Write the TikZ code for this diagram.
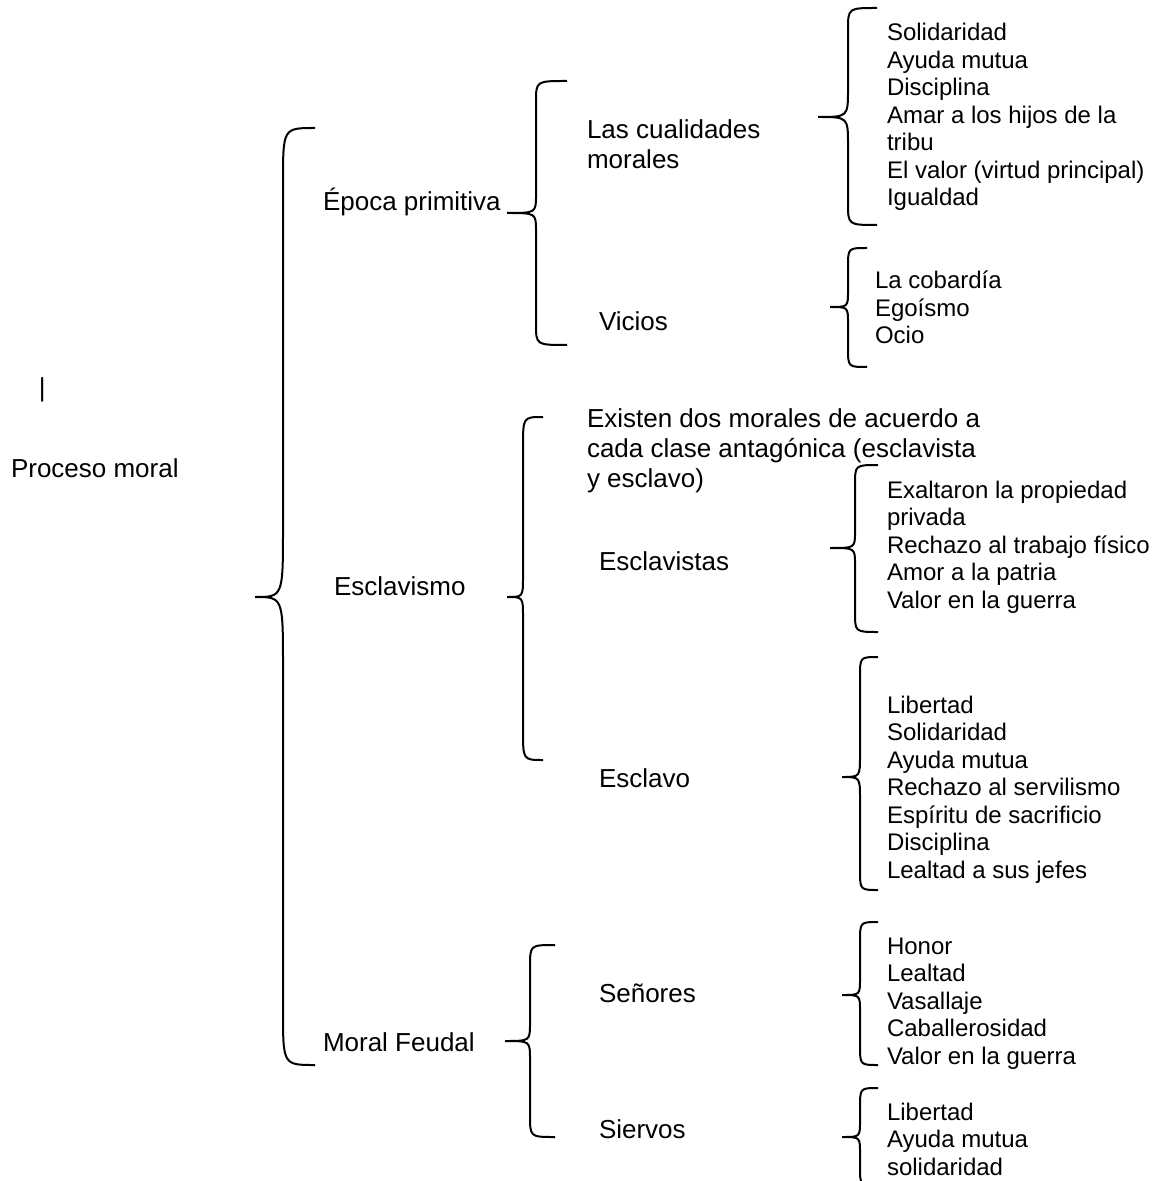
\documentclass[tikz,border=0pt]{standalone}
\usepackage{fontspec}
\setmainfont{Liberation Sans}

% left brace: spine x, end x, tip x, top y, tip y, bottom y, end radius, tip radius
\newcommand{\llave}[8]{%
  \draw (#2,#4) .. controls (#1,#4) .. (#1,#4+#7) -- (#1,#5-#8)
    .. controls (#1,#5) .. (#3,#5) .. controls (#1,#5) .. (#1,#5+#8)
    -- (#1,#6-#7) .. controls (#1,#6) .. (#2,#6);}

\tikzset{
  etiq/.style={anchor=base west, inner sep=0pt, align=left,
    font=\fontsize{13}{15}\selectfont},
  lista/.style={anchor=base west, inner sep=0pt, align=left,
    font=\fontsize{12}{13.75}\selectfont}
}

\begin{document}
\begin{tikzpicture}[x=0.5pt, y=-0.5pt, line width=1pt]
  \useasboundingbox (0,0) rectangle (1155,1181);
  \clip (0,0) rectangle (1155,1181);

  \node[etiq] (barra) at (38,397) {|};
  \node[etiq] (proceso) at (10,477) {Proceso moral};

  \llave{283}{315}{255}{128}{597}{1065}{55}{70}

  \node[etiq] (epoca) at (322,211) {Época primitiva};
  \node[etiq] (esclavismo) at (333,595) {Esclavismo};
  \node[etiq] (feudal) at (322,1051) {Moral Feudal};

  % epoca primitiva (multi-line nodes sit on their last line)
  \llave{536}{567}{507}{81}{213}{345}{21}{18}
  \node[etiq] (cualidades) at (586,169) {Las cualidades\\morales};
  \node[etiq] (vicios) at (598,331) {Vicios};

  \llave{848}{877}{818}{8}{117}{225}{22}{28}
  \node[lista] (l_cualidades) at (886,206) {Solidaridad\\Ayuda mutua\\Disciplina\\Amar a los hijos de la\\tribu\\El valor (virtud principal)\\Igualdad};

  \llave{848}{867}{830}{248}{307}{367}{19}{16}
  \node[lista] (l_vicios) at (874,344) {La cobardía\\Egoísmo\\Ocio};

  % esclavismo
  \llave{523}{543}{507}{417}{597}{760}{30}{20}
  \node[etiq] (existen) at (586,487) {Existen dos morales de acuerdo a\\cada clase antagónica (esclavista\\y esclavo)};
  \node[etiq] (esclavistas) at (598,570) {Esclavistas};
  \node[etiq] (esclavo) at (598,787) {Esclavo};

  \llave{855}{878}{830}{465}{548}{632}{20}{16}
  \node[lista] (l_esclavistas) at (886,608) {Exaltaron la propiedad\\privada\\Rechazo al trabajo físico\\Amor a la patria\\Valor en la guerra};

  \llave{860}{878}{842}{657}{777}{890}{20}{22}
  \node[lista] (l_esclavo) at (886,878) {Libertad\\Solidaridad\\Ayuda mutua\\Rechazo al servilismo\\Espíritu de sacrificio\\Disciplina\\Lealtad a sus jefes};

  % moral feudal
  \llave{530}{555}{505}{945}{1041}{1137}{22}{18}
  \node[etiq] (senores) at (598,1002) {Señores};
  \node[etiq] (siervos) at (598,1138) {Siervos};

  \llave{860}{878}{842}{922}{995}{1065}{20}{16}
  \node[lista] (l_senores) at (886,1064) {Honor\\Lealtad\\Vasallaje\\Caballerosidad\\Valor en la guerra};

  \llave{860}{878}{842}{1088}{1137}{1186}{20}{16}
  \node[lista] (l_siervos) at (886,1175) {Libertad\\Ayuda mutua\\solidaridad};
\end{tikzpicture}
\end{document}
